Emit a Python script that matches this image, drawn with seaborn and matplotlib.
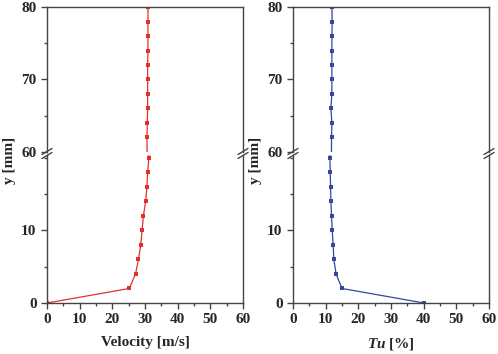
import matplotlib
matplotlib.use("Agg")
import matplotlib.pyplot as plt
import numpy as np
import pandas as pd
import seaborn as sns
from matplotlib.ticker import MultipleLocator

# data
y_mm = [0, 2, 4, 6, 8, 10, 12, 14, 16, 18, 20,
        62, 64, 66, 68, 70, 72, 74, 76, 78, 80]
velocity = [0.0, 25.2, 27.1, 28.0, 28.7, 29.1, 29.5, 30.2, 30.6, 30.8, 31.2,
            30.6, 30.7, 30.8, 30.8, 30.8, 30.8, 30.9, 30.9, 30.9, 30.9]
tu = [40.1, 15.0, 13.2, 12.5, 12.3, 12.0, 11.8, 11.6, 11.5, 11.4, 11.3,
      11.8, 11.9, 11.6, 11.9, 11.9, 11.9, 11.9, 11.9, 12.0, 11.9]

df = pd.DataFrame({"y": y_mm, "velocity": velocity, "tu": tu})

sns.set_style("ticks")
plt.rcParams["font.family"] = ["Liberation Serif", "DejaVu Serif"]
plt.rcParams["font.weight"] = "bold"
plt.rcParams["mathtext.fontset"] = "custom"
plt.rcParams["mathtext.it"] = "Liberation Serif:italic:bold"
plt.rcParams["mathtext.rm"] = "Liberation Serif:bold"

W, H = 498, 354
fig = plt.figure(figsize=(W / 100, H / 100), dpi=100)

spine_col = "#444444"


def px_box(x0, x1, y0, y1):
    # pixel box (top-left origin) -> figure fraction
    return [x0 / W, 1 - y1 / H, (x1 - x0) / W, (y1 - y0) / H]


def broken_panel(x0, x1, col, color, xlabel):
    ax_top = fig.add_axes(px_box(x0, x1, 7, 152))
    ax_bot = fig.add_axes(px_box(x0, x1, 155, 303))
    for ax in (ax_top, ax_bot):
        sns.lineplot(data=df, x=col, y="y", sort=False, estimator=None, orient="y",
                     color=color, marker="s", markersize=3.5, markeredgewidth=0,
                     linewidth=0.9, ax=ax)
        ax.set_xlim(0, 60)
        ax.set_xlabel("")
        ax.set_ylabel("")
        for s in ax.spines.values():
            s.set_color(spine_col)
            s.set_linewidth(1)
        ax.yaxis.set_minor_locator(MultipleLocator(5))
        ax.tick_params(axis="y", which="major", length=4, width=1, color=spine_col,
                       labelsize=11, right=False)
        ax.tick_params(axis="y", which="minor", length=2, width=1, color=spine_col, right=False)
    ax_top.set_ylim(60, 80)
    ax_top.set_yticks([60, 70, 80])
    ax_top.spines["bottom"].set_visible(False)
    ax_top.tick_params(axis="x", which="both", bottom=False, top=False, labelbottom=False)
    ax_bot.set_ylim(0, 20.4)
    ax_bot.set_yticks([0, 10])
    ax_bot.spines["top"].set_visible(False)
    ax_bot.set_xticks(range(0, 61, 10))
    ax_bot.xaxis.set_minor_locator(MultipleLocator(5))
    ax_bot.tick_params(axis="x", which="major", length=4, width=1, color=spine_col,
                       labelsize=11, top=False)
    ax_bot.tick_params(axis="x", which="minor", length=2, width=1, color=spine_col, top=False)
    ax_bot.set_xlabel(xlabel, fontsize=11, fontweight="bold", labelpad=7)
    for t in ax_top.get_yticklabels() + ax_bot.get_yticklabels() + ax_bot.get_xticklabels():
        t.set_fontweight("bold")

    # break marks on both spines
    yb = 1 - 153.5 / H
    for xp in (x0, x1):
        xf = xp / W
        for dy in (-2.0, 2.0):
            fig.add_artist(plt.Line2D([xf - 5 / W, xf + 5 / W],
                                      [yb + (dy - 3) / H, yb + (dy + 3) / H],
                                      color=spine_col, linewidth=1))
    fig.text((x0 - 37) / W, 1 - 160 / H, "y [mm]", rotation=90, ha="center", va="center",
             fontsize=11, fontweight="bold")


broken_panel(47, 243, "velocity", "#e3302f", "Velocity [m/s]")
broken_panel(293, 489, "tu", "#34489c", r"$\mathit{Tu}$ [%]")

fig.savefig("out.png", dpi=100)
